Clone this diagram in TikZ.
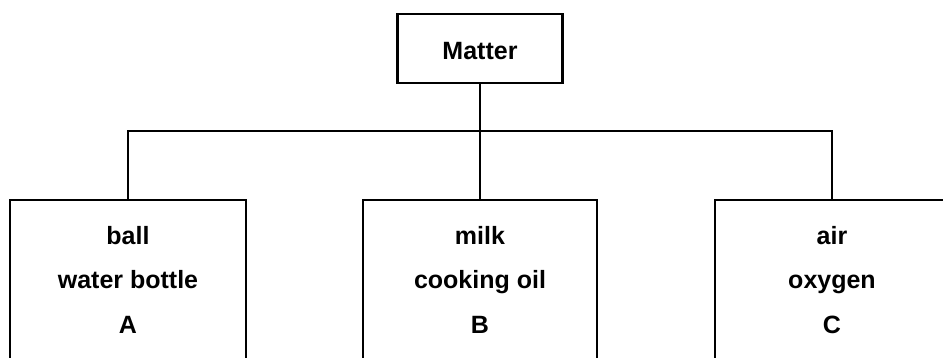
\documentclass[tikz,border=0pt]{standalone}
\usepackage{fontspec}
\setmainfont{Liberation Sans}
\begin{document}
\begin{tikzpicture}[x=1pt,y=-1pt,
  every node/.style={font=\fontsize{25}{30}\selectfont\bfseries},
  box/.style={draw, line width=2.2pt, rectangle, inner sep=0pt},
  lbl/.style={anchor=base, inner sep=0pt},
  conn/.style={line width=2.2pt}]
\useasboundingbox (0,0) rectangle (943,358);
\clip (0,0) rectangle (943,358);
\node[box, minimum width=165pt, minimum height=69pt, text height=23pt, text depth=0pt] (M) at (480,48.5) {Matter};
\node[box, anchor=north, minimum width=236pt, minimum height=220pt] (A) at (128,199) {};
\node[box, anchor=north, minimum width=234pt, minimum height=220pt] (B) at (480,199) {};
\node[box, anchor=north, minimum width=234pt, minimum height=220pt] (C) at (832,199) {};
\coordinate (J) at (480,131);
\draw[conn] (M.south) -- (B.north);
\draw[conn] (A.north) |- (J) -| (C.north);
\node[lbl] (A1) at (128,245) {ball};
\node[lbl] (A2) at (128,288) {water bottle};
\node[lbl] (A3) at (128,334) {A};
\node[lbl] (B1) at (480,245) {milk};
\node[lbl] (B2) at (480,288) {cooking oil};
\node[lbl] (B3) at (480,334) {B};
\node[lbl] (C1) at (832,245) {air};
\node[lbl] (C2) at (832,288) {oxygen};
\node[lbl] (C3) at (832,334) {C};
\end{tikzpicture}
\end{document}
